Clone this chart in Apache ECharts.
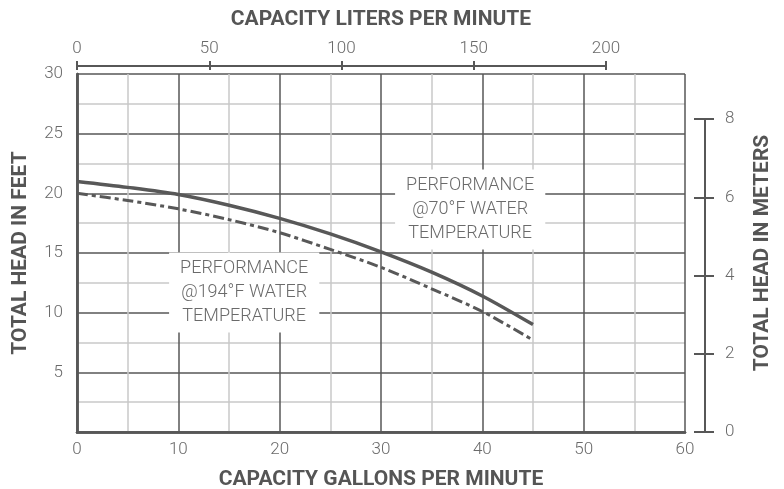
<!DOCTYPE html>
<html>
<head>
<meta charset="utf-8">
<script src="https://cdn.jsdelivr.net/npm/echarts@6/dist/echarts.min.js"></script>
<style>html,body{margin:0;padding:0;background:#fff}#c{width:784px;height:489px}</style>
</head>
<body>
<div id="c"></div>
<script>
// Data (GPM, feet)
const gpm = [0, 5, 10, 15, 20, 25, 30, 35, 40, 45];
const head70 = [21.0, 20.5, 19.9, 19.0, 17.9, 16.6, 15.1, 13.4, 11.4, 9.0];
const head194 = [20.0, 19.4, 18.7, 17.8, 16.7, 15.3, 13.8, 12.0, 10.1, 7.7];
const label70 = 'PERFORMANCE\n@70°F WATER\nTEMPERATURE';
const label194 = 'PERFORMANCE\n@194°F WATER\nTEMPERATURE';
const label70At = [38.8, 18.65];
const label194At = [16.5, 11.7];

const DARK = '#575757', LIGHT = '#c9c9c9', TXT = '#6a6a6a';
const FONT = 'Roboto';
const tickLbl = {color: TXT, fontSize: 17, fontWeight: 300, fontFamily: FONT};
const nameSt = {color: '#555555', fontSize: 21, fontWeight: 'bold', fontFamily: FONT};
const pairs = a => gpm.map((g, i) => [g, a[i]]);

const annLabel = (txt) => ({
  show: true, position: 'inside', formatter: txt,
  color: TXT, fontSize: 18, fontWeight: 300, fontFamily: FONT, lineHeight: 24,
  backgroundColor: '#fff', padding: [4, 11]
});

const chart = echarts.init(document.getElementById('c'), null, {renderer: 'canvas'});
chart.setOption({
  animation: false,
  grid: [
    {left: 77, right: 99, top: 74, bottom: 57, show: false, containLabel: false, outerBoundsMode: 'none'},
    {left: 77, width: 529, top: 65, height: 1, show: false, containLabel: false, outerBoundsMode: 'none'},
    {left: 705, width: 1, top: 119, bottom: 57, show: false, containLabel: false, outerBoundsMode: 'none'}
  ],
  xAxis: [
    {gridIndex: 0, type: 'value', position: 'bottom', min: 0, max: 60, interval: 10,
     axisLine: {show: true, lineStyle: {color: DARK, width: 2.5}},
     axisTick: {show: false},
     axisLabel: Object.assign({margin: 9}, tickLbl),
     splitLine: {show: true, lineStyle: {color: DARK, width: 1.5}},
     minorTick: {show: false, splitNumber: 2},
     minorSplitLine: {show: true, lineStyle: {color: LIGHT, width: 1.5}},
     name: 'CAPACITY GALLONS PER MINUTE', nameLocation: 'middle', nameGap: 37, nameTextStyle: nameSt},
    {gridIndex: 0, type: 'value', position: 'top', min: 0, max: 60,
     axisLine: {show: true, lineStyle: {color: DARK, width: 2.5}},
     axisTick: {show: false}, axisLabel: {show: false}, splitLine: {show: false},
     name: 'CAPACITY LITERS PER MINUTE', nameLocation: 'middle', nameGap: 44, nameTextStyle: nameSt},
    {gridIndex: 1, type: 'value', position: 'top', min: 0, max: 200, interval: 50,
     axisLine: {show: true, lineStyle: {color: DARK, width: 2}},
     axisTick: {show: true, length: 5, lineStyle: {color: DARK, width: 2}},
     axisLabel: Object.assign({margin: 8}, tickLbl),
     splitLine: {show: false}},
    {gridIndex: 1, type: 'value', position: 'bottom', min: 0, max: 200, interval: 50,
     axisLine: {show: false},
     axisTick: {show: true, length: 4, lineStyle: {color: DARK, width: 2}},
     axisLabel: {show: false}, splitLine: {show: false}},
    {gridIndex: 2, type: 'value', show: false, min: 0, max: 1}
  ],
  yAxis: [
    {gridIndex: 0, type: 'value', position: 'left', min: 0, max: 30, interval: 5,
     axisLine: {show: true, lineStyle: {color: DARK, width: 2.5}},
     axisTick: {show: false},
     axisLabel: Object.assign({margin: 14, showMinLabel: false}, tickLbl),
     splitLine: {show: true, lineStyle: {color: DARK, width: 1.5}},
     minorTick: {show: false, splitNumber: 2},
     minorSplitLine: {show: true, lineStyle: {color: LIGHT, width: 1.5}},
     name: 'TOTAL HEAD IN FEET', nameLocation: 'middle', nameRotate: 90, nameGap: 46, nameTextStyle: nameSt},
    {gridIndex: 0, type: 'value', position: 'right', min: 0, max: 30,
     axisLine: {show: true, lineStyle: {color: DARK, width: 2.5}},
     axisTick: {show: false}, axisLabel: {show: false}, splitLine: {show: false},
     name: 'TOTAL HEAD IN METERS', nameLocation: 'middle', nameRotate: 90, nameGap: 67, nameTextStyle: nameSt},
    {gridIndex: 1, type: 'value', show: false, min: 0, max: 1},
    {gridIndex: 2, type: 'value', position: 'right', min: 0, max: 8, interval: 2,
     axisLine: {show: true, lineStyle: {color: DARK, width: 2}},
     axisTick: {show: true, length: 9, lineStyle: {color: DARK, width: 2}},
     axisLabel: Object.assign({margin: 19}, tickLbl),
     splitLine: {show: false}},
    {gridIndex: 2, type: 'value', position: 'left', min: 0, max: 8, interval: 2,
     axisLine: {show: false},
     axisTick: {show: true, length: 11, lineStyle: {color: DARK, width: 2}},
     axisLabel: {show: false}, splitLine: {show: false}}
  ],
  series: [
    {type: 'line', name: '70F', xAxisIndex: 0, yAxisIndex: 0, data: pairs(head70),
     smooth: 0.3, showSymbol: false, symbol: 'none',
     lineStyle: {color: '#585858', width: 3.5}, z: 5,
     markPoint: {symbol: 'rect', symbolSize: 0, silent: true,
       data: [{coord: label70At, label: annLabel(label70)}]}},
    {type: 'line', name: '194F', xAxisIndex: 0, yAxisIndex: 0, data: pairs(head194),
     smooth: 0.3, showSymbol: false, symbol: 'none',
     lineStyle: {color: '#585858', width: 3, type: [11, 4, 4, 4]}, z: 4,
     markPoint: {symbol: 'rect', symbolSize: 0, silent: true,
       data: [{coord: label194At, label: annLabel(label194)}]}}
  ]
});
</script>
</body>
</html>
